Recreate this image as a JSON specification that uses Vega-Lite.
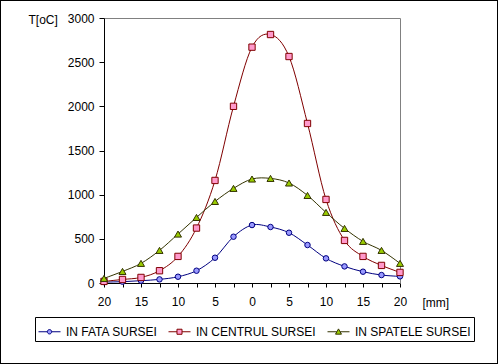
{
  "$schema": "https://vega.github.io/schema/vega-lite/v6.json",
  "width": 498,
  "height": 364,
  "autosize": "none",
  "padding": 0,
  "background": "white",
  "config": {
    "view": {"stroke": "black", "strokeWidth": 2, "fill": "white"},
    "axis": {
      "labelFont": "Liberation Sans", "labelFontSize": 12, "labelColor": "black",
      "titleFont": "Liberation Sans", "titleFontSize": 12, "titleFontWeight": "normal", "titleColor": "black",
      "domainColor": "black", "tickColor": "black", "grid": false, "labelFlush": false, "labelOverlap": false
    },
    "legend": {
      "orient": "none", "legendX": 35, "legendY": 317, "direction": "horizontal", "columns": 3,
      "strokeColor": "black", "fillColor": "white", "padding": 3,
      "symbolSize": 484, "symbolStrokeWidth": 1,
      "labelFont": "Liberation Sans", "labelFontSize": 12, "labelColor": "black",
      "labelOffset": 5, "columnPadding": 8, "rowPadding": 0, "labelLimit": 300
    }
  },
  "data": {
    "values": [
      {"x": -20, "series": "IN FATA SURSEI", "T": 10},
      {"x": -17.5, "series": "IN FATA SURSEI", "T": 15},
      {"x": -15, "series": "IN FATA SURSEI", "T": 26},
      {"x": -12.5, "series": "IN FATA SURSEI", "T": 41},
      {"x": -10, "series": "IN FATA SURSEI", "T": 71},
      {"x": -7.5, "series": "IN FATA SURSEI", "T": 139},
      {"x": -5, "series": "IN FATA SURSEI", "T": 286},
      {"x": -2.5, "series": "IN FATA SURSEI", "T": 524},
      {"x": 0, "series": "IN FATA SURSEI", "T": 656},
      {"x": 2.5, "series": "IN FATA SURSEI", "T": 634},
      {"x": 5, "series": "IN FATA SURSEI", "T": 569},
      {"x": 7.5, "series": "IN FATA SURSEI", "T": 430},
      {"x": 10, "series": "IN FATA SURSEI", "T": 279},
      {"x": 12.5, "series": "IN FATA SURSEI", "T": 188},
      {"x": 15, "series": "IN FATA SURSEI", "T": 128},
      {"x": 17.5, "series": "IN FATA SURSEI", "T": 90},
      {"x": 20, "series": "IN FATA SURSEI", "T": 75},
      {"x": -20, "series": "IN CENTRUL SURSEI", "T": 18},
      {"x": -17.5, "series": "IN CENTRUL SURSEI", "T": 40},
      {"x": -15, "series": "IN CENTRUL SURSEI", "T": 63},
      {"x": -12.5, "series": "IN CENTRUL SURSEI", "T": 139},
      {"x": -10, "series": "IN CENTRUL SURSEI", "T": 301},
      {"x": -7.5, "series": "IN CENTRUL SURSEI", "T": 622},
      {"x": -5, "series": "IN CENTRUL SURSEI", "T": 1161},
      {"x": -2.5, "series": "IN CENTRUL SURSEI", "T": 2000},
      {"x": 0, "series": "IN CENTRUL SURSEI", "T": 2670},
      {"x": 2.5, "series": "IN CENTRUL SURSEI", "T": 2813},
      {"x": 5, "series": "IN CENTRUL SURSEI", "T": 2564},
      {"x": 7.5, "series": "IN CENTRUL SURSEI", "T": 1806},
      {"x": 10, "series": "IN CENTRUL SURSEI", "T": 946},
      {"x": 12.5, "series": "IN CENTRUL SURSEI", "T": 482},
      {"x": 15, "series": "IN CENTRUL SURSEI", "T": 301},
      {"x": 17.5, "series": "IN CENTRUL SURSEI", "T": 199},
      {"x": 20, "series": "IN CENTRUL SURSEI", "T": 120},
      {"x": -20, "series": "IN SPATELE SURSEI", "T": 52},
      {"x": -17.5, "series": "IN SPATELE SURSEI", "T": 131},
      {"x": -15, "series": "IN SPATELE SURSEI", "T": 222},
      {"x": -12.5, "series": "IN SPATELE SURSEI", "T": 369},
      {"x": -10, "series": "IN SPATELE SURSEI", "T": 554},
      {"x": -7.5, "series": "IN SPATELE SURSEI", "T": 742},
      {"x": -5, "series": "IN SPATELE SURSEI", "T": 923},
      {"x": -2.5, "series": "IN SPATELE SURSEI", "T": 1071},
      {"x": 0, "series": "IN SPATELE SURSEI", "T": 1177},
      {"x": 2.5, "series": "IN SPATELE SURSEI", "T": 1184},
      {"x": 5, "series": "IN SPATELE SURSEI", "T": 1132},
      {"x": 7.5, "series": "IN SPATELE SURSEI", "T": 991},
      {"x": 10, "series": "IN SPATELE SURSEI", "T": 799},
      {"x": 12.5, "series": "IN SPATELE SURSEI", "T": 618},
      {"x": 15, "series": "IN SPATELE SURSEI", "T": 471},
      {"x": 17.5, "series": "IN SPATELE SURSEI", "T": 369},
      {"x": 20, "series": "IN SPATELE SURSEI", "T": 222}
    ]
  },
  "layer": [
    {
      "transform": [{"filter": "datum.series === 'IN FATA SURSEI'"}],
      "mark": {"type": "line", "interpolate": "cardinal", "tension": 0, "stroke": "#000080", "strokeWidth": 1},
      "encoding": {
        "x": {
          "field": "x", "type": "quantitative",
          "scale": {"domain": [-20, 20], "range": [104, 400], "nice": false, "zero": false},
          "axis": {
            "orient": "bottom", "offset": -81,
            "values": [-20, -17.5, -15, -12.5, -10, -7.5, -5, -2.5, 0, 2.5, 5, 7.5, 10, 12.5, 15, 17.5, 20],
            "labelExpr": "datum.value % 5 === 0 ? '' + abs(datum.value) : ''",
            "tickSize": 4, "labelPadding": 9,
            "encode": {"ticks": {"enter": {"y": {"value": -3}}, "update": {"y": {"value": -3}}}},
            "title": "[mm]", "titleX": 422, "titleY": 19, "titleAlign": "left", "titleBaseline": "middle", "titleAngle": 0
          }
        },
        "y": {
          "field": "T", "type": "quantitative",
          "scale": {"domain": [0, 3000], "range": [283, 18], "nice": false, "zero": false},
          "axis": {
            "orient": "left", "offset": -104,
            "values": [0, 500, 1000, 1500, 2000, 2500, 3000], "format": "d",
            "tickSize": 5, "labelPadding": 5,
            "title": "T[oC]", "titleAngle": 0, "titleX": -76, "titleY": 19.5, "titleAlign": "left", "titleBaseline": "middle"
          }
        }
      }
    },
    {
      "transform": [{"filter": "datum.series === 'IN FATA SURSEI'"}],
      "mark": {"type": "point", "shape": "circle", "size": 30, "filled": true, "fill": "#9999FF", "stroke": "#000080", "strokeWidth": 1, "opacity": 1},
      "encoding": {
        "x": {"field": "x", "type": "quantitative", "axis": null},
        "y": {"field": "T", "type": "quantitative", "axis": null}
      }
    },
    {
      "transform": [{"filter": "datum.series === 'IN CENTRUL SURSEI'"}],
      "mark": {"type": "line", "interpolate": "cardinal", "tension": 0, "stroke": "#800000", "strokeWidth": 1},
      "encoding": {
        "x": {"field": "x", "type": "quantitative",
          "axis": {"orient": "top", "offset": -18, "domainColor": "#808080", "ticks": false, "labels": false, "title": null}},
        "y": {"field": "T", "type": "quantitative",
          "axis": {"orient": "right", "offset": -98, "domainColor": "#808080", "ticks": false, "labels": false, "title": null}}
      }
    },
    {
      "transform": [{"filter": "datum.series === 'IN CENTRUL SURSEI'"}],
      "mark": {"type": "point", "shape": "square", "size": 40, "filled": true, "fill": "#FF99CC", "stroke": "#800000", "strokeWidth": 1, "opacity": 1},
      "encoding": {
        "x": {"field": "x", "type": "quantitative", "axis": null},
        "y": {"field": "T", "type": "quantitative", "axis": null}
      }
    },
    {
      "transform": [{"filter": "datum.series === 'IN SPATELE SURSEI'"}],
      "mark": {"type": "line", "interpolate": "cardinal", "tension": 0, "stroke": "#333300", "strokeWidth": 1},
      "encoding": {
        "x": {"field": "x", "type": "quantitative", "axis": null},
        "y": {"field": "T", "type": "quantitative", "axis": null}
      }
    },
    {
      "transform": [{"filter": "datum.series === 'IN SPATELE SURSEI'"}],
      "mark": {"type": "point", "shape": "triangle-up", "size": 49, "filled": true, "fill": "#99CC00", "stroke": "#333300", "strokeWidth": 1, "opacity": 1},
      "encoding": {
        "x": {"field": "x", "type": "quantitative", "axis": null},
        "y": {"field": "T", "type": "quantitative", "axis": null}
      }
    },
    {
      "mark": {"type": "point", "size": 0, "filled": true, "strokeWidth": 1, "opacity": 1},
      "encoding": {
        "x": {"field": "x", "type": "quantitative", "axis": null},
        "y": {"field": "T", "type": "quantitative", "axis": null},
        "shape": {
          "field": "series", "type": "nominal",
          "scale": {
            "domain": ["IN FATA SURSEI", "IN CENTRUL SURSEI", "IN SPATELE SURSEI"],
            "range": [
              "M-1,0H-0.2M0.2,0H1M-0.2,0A0.2,0.2,0,1,0,0.2,0A0.2,0.2,0,1,0,-0.2,0Z",
              "M-1,0H-0.23M0.23,0H1M-0.23,-0.23H0.23V0.23H-0.23Z",
              "M-1,0H-0.15M0.15,0H1M0,-0.26L0.27,0.22H-0.27Z"
            ]
          },
          "legend": {"title": null}
        },
        "fill": {
          "field": "series", "type": "nominal",
          "scale": {"domain": ["IN FATA SURSEI", "IN CENTRUL SURSEI", "IN SPATELE SURSEI"], "range": ["#9999FF", "#FF99CC", "#99CC00"]},
          "legend": {"title": null}
        },
        "stroke": {
          "field": "series", "type": "nominal",
          "scale": {"domain": ["IN FATA SURSEI", "IN CENTRUL SURSEI", "IN SPATELE SURSEI"], "range": ["#000080", "#800000", "#333300"]},
          "legend": {"title": null}
        }
      }
    }
  ]
}
